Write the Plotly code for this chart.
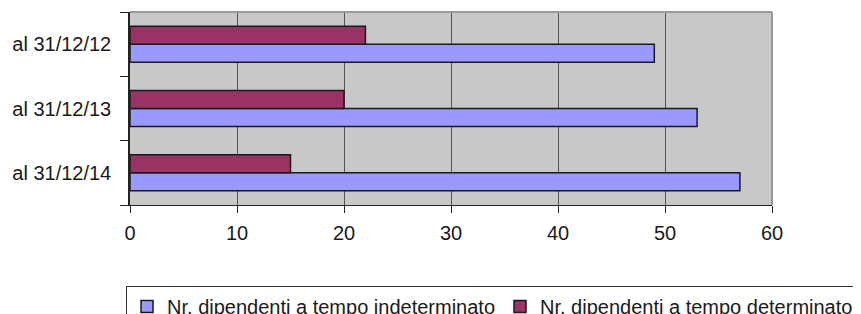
import plotly.graph_objects as go

categories = ["al 31/12/12", "al 31/12/13", "al 31/12/14"]
indeterminato = [49, 53, 57]
determinato = [22, 20, 15]
series_names = ["Nr. dipendenti a tempo indeterminato", "Nr. dipendenti a tempo determinato"]
x_ticks = [0, 10, 20, 30, 40, 50, 60]

fig = go.Figure()
fig.add_trace(go.Bar(y=categories, x=indeterminato, orientation="h", name=series_names[0],
                     marker=dict(color="#9999FF", line=dict(color="#1a1a1a", width=1.5))))
fig.add_trace(go.Bar(y=categories, x=determinato, orientation="h", name=series_names[1],
                     marker=dict(color="#993366", line=dict(color="#1a1a1a", width=1.5))))

fam = "Liberation Sans, Arial, sans-serif"
tick_font = dict(family=fam, size=20, color="#1a1a1a")
leg_font = dict(family=fam, size=20, color="#1a1a1a")
fig.update_layout(
    width=861, height=314,
    margin=dict(l=122, r=97, t=4, b=117, autoexpand=False),
    paper_bgcolor="white", plot_bgcolor="#C8C8C8",
    barmode="group", bargap=0.44, bargroupgap=0,
    font=tick_font,
    showlegend=True,
    legend=dict(orientation="h", x=-0.0062, xanchor="left", y=-0.4197, yanchor="top",
                bordercolor="#333333", borderwidth=1, font=leg_font,
                itemwidth=30, tracegroupgap=0),
    xaxis=dict(range=[0, 60], tickvals=x_ticks, showgrid=True, gridcolor="#555555", gridwidth=1,
               zeroline=False, showline=True, linecolor="#222222", linewidth=1,
               ticks="outside", ticklen=7, tickcolor="#222222", ticklabelstandoff=3,
               tickfont=tick_font, automargin=False),
    yaxis=dict(categoryorder="array", categoryarray=categories[::-1], showgrid=False,
               showline=True, linecolor="#222222", linewidth=1.5,
               ticks="outside", ticklen=8, tickcolor="#222222", tickson="boundaries",
               ticklabelstandoff=13, tickfont=tick_font, automargin=False),
    shapes=[dict(type="line", xref="paper", yref="paper", x0=0, x1=1, y0=1, y1=1,
                 line=dict(color="#999999", width=2)),
            dict(type="line", xref="paper", yref="paper", x0=1, x1=1, y0=0, y1=1,
                 line=dict(color="#999999", width=2))],
)

fig.write_html("out.html")
